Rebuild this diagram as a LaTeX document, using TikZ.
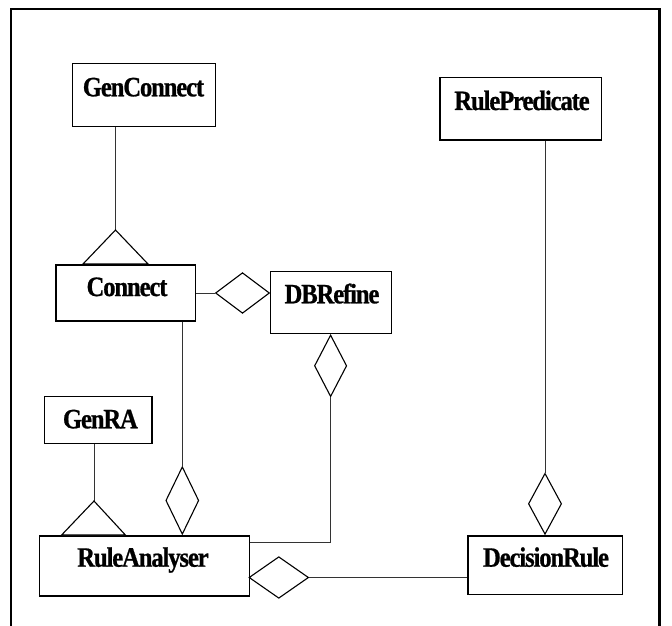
\documentclass[tikz,border=0pt]{standalone}
\usepackage{fontspec}
\setmainfont{Liberation Serif}[FakeStretch=0.88, LetterSpace=-4, BoldFeatures={FakeBold=0.8}]
\usetikzlibrary{shapes.geometric}
\tikzset{
  box/.style={draw, line width=1.2pt, rectangle, inner sep=0pt},
  lbl/.style={anchor=base, inner sep=0pt, font=\fontsize{28}{30}\selectfont\bfseries},
  agg/.style={draw, line width=1.1pt, diamond, inner sep=0pt, fill=white},
  con/.style={line width=0.9pt, draw=black!80},
  gen/.style={draw, line width=1.1pt, fill=white},
  frame/.style={line width=2.4pt}
}
\begin{document}
\begin{tikzpicture}[x=1pt,y=-1pt]
\useasboundingbox (0,0) rectangle (672,626);
% frame
\coordinate (fbl) at (10.8,640);
\coordinate (ftl) at (10.8,9);
\coordinate (ftr) at (659.5,9);
\coordinate (fbr) at (659.5,640);
\draw[frame] (fbl) -- (ftl) -- (ftr) -- (fbr);

% boxes
\node[box, minimum width=143pt, minimum height=63.4pt] (gc) at (143.9,95) {};
\node[lbl] (gct) at (143.5,96.3) {GenConnect};
\node[box, minimum width=161.7pt, minimum height=62.3pt] (rp) at (520.9,108.9) {};
\node[lbl] (rpt) at (522,110) {RulePredicate};
\node[box, minimum width=139.3pt, minimum height=56pt] (cn) at (125.7,293) {};
\node[lbl] (cnt) at (127,296) {Connect};
\node[box, minimum width=121.1pt, minimum height=61.6pt] (db) at (330.9,302.5) {};
\node[lbl] (dbt) at (332,303.3) {DBRefine};
\node[box, minimum width=107.2pt, minimum height=46.6pt] (gr) at (98.4,420) {};
\node[lbl] (grt) at (100.4,428.3) {GenRA};
\node[box, minimum width=209.9pt, minimum height=60pt] (ra) at (144.2,566) {};
\node[lbl] (rat) at (143,566.7) {RuleAnalyser};
\node[box, minimum width=154.8pt, minimum height=58.3pt] (dr) at (545.4,565.2) {};
\node[lbl] (drt) at (546,566.7) {DecisionRule};

% diamonds
\node[agg, minimum width=54pt, minimum height=40.6pt] (d1) at (242.5,293) {};
\node[agg, minimum width=33pt, minimum height=67.6pt] (d2) at (182.3,500.5) {};
\node[agg, minimum width=32.3pt, minimum height=61.7pt] (d3) at (330.6,365.8) {};
\node[agg, minimum width=33.2pt, minimum height=61pt] (d4) at (545,503.8) {};
\node[agg, minimum width=59.6pt, minimum height=41.6pt] (d5) at (278.8,577.5) {};

% generalisation triangles
\coordinate (t1) at (115.5,230);
\coordinate (t1l) at (83.2,263.8);
\coordinate (t1r) at (147.8,263.8);
\coordinate (t2) at (94,501);
\coordinate (t2l) at (61.6,535);
\coordinate (t2r) at (125.4,535);

% connectors
\draw[con] (gc.south -| t1) -- (t1);
\draw[gen] (t1) -- (t1l) -- (t1r) -- cycle;
\draw[con] (gr.south -| t2) -- (t2);
\draw[gen] (t2) -- (t2l) -- (t2r) -- cycle;

\draw[con] (cn.east |- d1) -- (d1.west);
\draw[con] (cn.south -| d2) -- (d2.north);
\coordinate (bend) at (330.6,542.7);
\draw[con] (d3.south) -- (bend) -- (bend -| ra.east);
\draw[con] (rp.south -| d4) -- (d4.north);
\draw[con] (d5.east) -- (d5.east -| dr.west);
\end{tikzpicture}
\end{document}
